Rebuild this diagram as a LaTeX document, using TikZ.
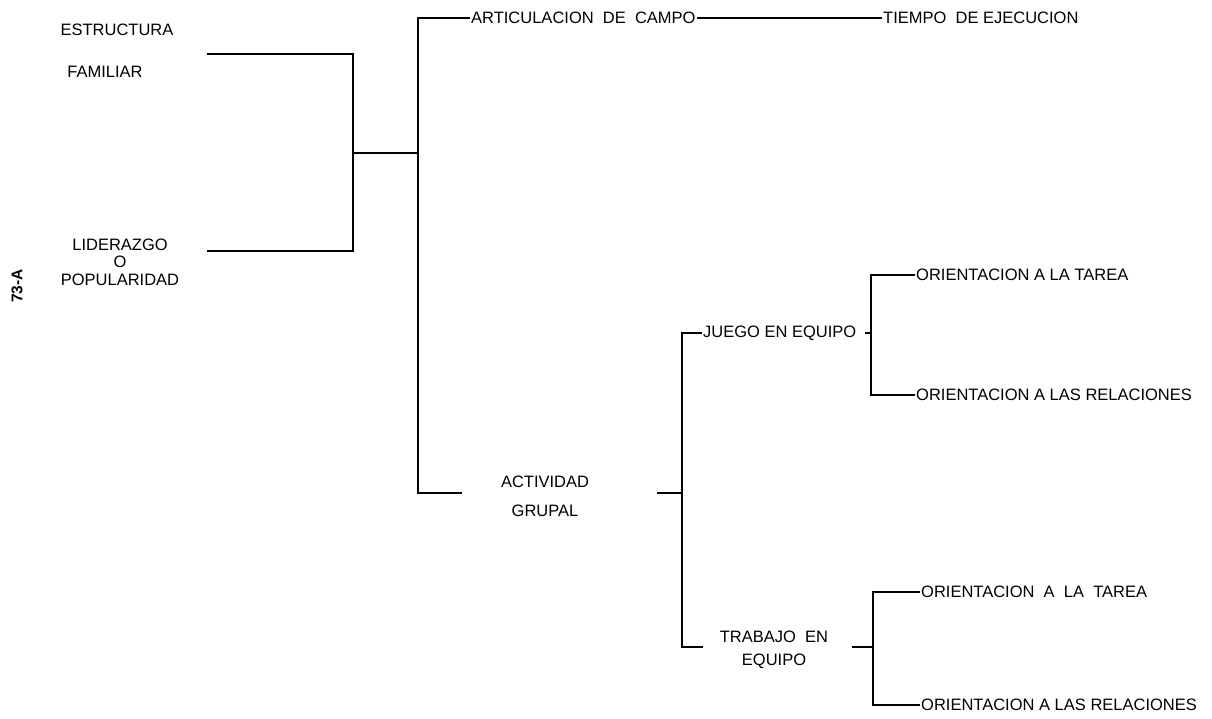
\documentclass[tikz,border=0pt]{standalone}
\usepackage{fontspec}
\setmainfont{Liberation Sans}
\usepackage{tikz}
\usetikzlibrary{positioning,calc}

\begin{document}
\begin{tikzpicture}[x=1pt, y=-1pt, font=\fontsize{16.5}{18}\selectfont,
  lbl/.style={inner xsep=1pt, inner ysep=0pt, align=center},
  ln/.style={line width=1.6pt}]
\useasboundingbox (0,0) rectangle (1212,719);
\node[lbl] (estr) at (117,30) {ESTRUCTURA};
\node[lbl] (fam) at (105,72) {FAMILIAR};
\node[lbl, font=\fontsize{16.5}{17.5}\selectfont] (lid) at (120,262) {LIDERAZGO\\O\\POPULARIDAD};
\node[lbl, rotate=90, font=\bfseries\fontsize{15.5}{17}\selectfont] (code) at (17,286) {73-A};
\coordinate (famEnd) at (207,54);
\coordinate (lidEnd) at (207,251);
\coordinate (j1) at (353,153);
\coordinate (j2) at (418,153);
\node[lbl, anchor=west] (art) at (470,18) {ARTICULACION~~DE~~CAMPO};
\node[lbl, anchor=west] (tiempo) at (882,18) {TIEMPO~ DE EJECUCION};
\node[lbl, font=\fontsize{16.5}{29}\selectfont] (act) at (545,496) {ACTIVIDAD\\GRUPAL};
\coordinate (actL) at (462,493);
\coordinate (actR) at (657,493);
\coordinate (j3) at (682,493);
\node[lbl, anchor=west] (juego) at (702,333) {JUEGO EN EQUIPO};
\coordinate (j4) at (871,333);
\node[lbl, font=\fontsize{16.5}{23}\selectfont] (trab) at (774,650) {TRABAJO~~EN\\EQUIPO};
\coordinate (trabL) at (703,647);
\coordinate (trabR) at (852,647);
\coordinate (j5) at (873,647);
\node[lbl, anchor=west] (tarea1) at (915,275) {ORIENTACION A LA TAREA};
\node[lbl, anchor=west] (rel1) at (915,395) {ORIENTACION A LAS RELACIONES};
\node[lbl, anchor=west] (tarea2) at (920,592) {ORIENTACION~ A~ LA~ TAREA};
\node[lbl, anchor=west] (rel2) at (920,705) {ORIENTACION A LAS RELACIONES};
\draw[ln] (famEnd) -| (j1) |- (lidEnd);
\draw[ln] (j1) -- (j2);
\draw[ln] (art.west) -| (j2) |- (actL);
\draw[ln] (art) -- (tiempo);
\draw[ln] (actR) -- (j3);
\draw[ln] (juego.west) -| (j3) |- (trabL);
\draw[ln] ($(juego.east)+(7,0)$) -- (j4);
\draw[ln] (tarea1.west) -| (j4) |- (rel1.west);
\draw[ln] (trabR) -- (j5);
\draw[ln] (tarea2.west) -| (j5) |- (rel2.west);
\end{tikzpicture}
\end{document}
